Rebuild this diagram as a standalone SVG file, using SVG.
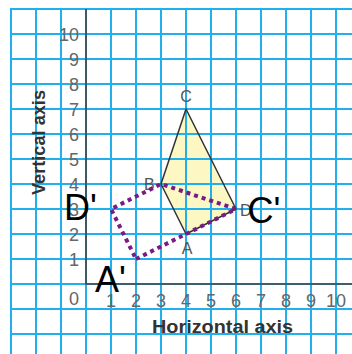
<svg xmlns="http://www.w3.org/2000/svg" width="352" height="354" viewBox="0 0 352 354">
<style>
.grid line{stroke:#22b0ec;stroke-width:2}
.axis{stroke:#444;stroke-width:1.6;fill:none}
.tick{font-family:"Liberation Sans",Arial,sans-serif;font-size:18px;fill:#666}
.ty{text-anchor:end}
.tx{text-anchor:middle}
.ttl{font-family:"Liberation Sans",Arial,sans-serif;font-weight:bold;fill:#333;font-size:18px}
.small{font-family:"Liberation Sans",Arial,sans-serif;font-size:16px;fill:#555}
.big{font-family:"Liberation Sans",Arial,sans-serif;font-size:36px;fill:#000}
</style>
<rect width="352" height="354" fill="#fff"/>
<g id="shape-fill"><polygon points="186,234 161,184 186,109 236,209" fill="#fdf7c4"/></g>
<g class="grid" id="grid">
<line x1="11" y1="9" x2="11" y2="354"/><line x1="36" y1="9" x2="36" y2="354"/><line x1="61" y1="9" x2="61" y2="354"/><line x1="86" y1="9" x2="86" y2="354"/><line x1="111" y1="9" x2="111" y2="354"/><line x1="136" y1="9" x2="136" y2="354"/><line x1="161" y1="9" x2="161" y2="354"/><line x1="186" y1="9" x2="186" y2="354"/><line x1="211" y1="9" x2="211" y2="354"/><line x1="236" y1="9" x2="236" y2="354"/><line x1="261" y1="9" x2="261" y2="354"/><line x1="286" y1="9" x2="286" y2="354"/><line x1="311" y1="9" x2="311" y2="354"/><line x1="336" y1="9" x2="336" y2="354"/>
<line x1="10" y1="9" x2="352" y2="9"/><line x1="10" y1="34" x2="352" y2="34"/><line x1="10" y1="59" x2="352" y2="59"/><line x1="10" y1="84" x2="352" y2="84"/><line x1="10" y1="109" x2="352" y2="109"/><line x1="10" y1="134" x2="352" y2="134"/><line x1="10" y1="159" x2="352" y2="159"/><line x1="10" y1="184" x2="352" y2="184"/><line x1="10" y1="209" x2="352" y2="209"/><line x1="10" y1="234" x2="352" y2="234"/><line x1="10" y1="259" x2="352" y2="259"/><line x1="10" y1="284" x2="352" y2="284"/><line x1="10" y1="309" x2="352" y2="309"/><line x1="10" y1="334" x2="352" y2="334"/>
</g>
<g id="axes"><polyline class="axis" points="86,9 86,284 352,284"/></g>
<g id="y-ticks" class="tick ty">
<text x="79" y="265.5">1</text><text x="79" y="240.5">2</text><text x="79" y="215.5">3</text><text x="79" y="190.5">4</text><text x="79" y="165.5">5</text><text x="79" y="140.5">6</text><text x="79" y="115.5">7</text><text x="79" y="90.5">8</text><text x="79" y="65.5">9</text><text x="79" y="40.5">10</text>
</g>
<g id="x-ticks" class="tick tx">
<text x="74" y="305">0</text><text x="111" y="307">1</text><text x="136" y="307">2</text><text x="161" y="307">3</text><text x="186" y="307">4</text><text x="211" y="307">5</text><text x="236" y="307">6</text><text x="261" y="307">7</text><text x="286" y="307">8</text><text x="311" y="307">9</text><text x="336" y="307">10</text>
</g>
<g id="axis-titles">
<text class="ttl" x="152" y="333" textLength="141" lengthAdjust="spacingAndGlyphs">Horizontal axis</text>
<text class="ttl" transform="translate(45,195) rotate(-90)" x="0" y="0" font-size="17" textLength="105" lengthAdjust="spacingAndGlyphs">Vertical axis</text>
</g>
<g id="shape-ABCD"><polygon points="186,234 161,184 186,109 236,209" fill="none" stroke="#333" stroke-width="1.5" stroke-linejoin="round"/></g>
<g id="labels-ABCD" class="small">
<text x="186" y="102" text-anchor="middle">C</text>
<text x="144" y="190">B</text>
<text x="187" y="254" text-anchor="middle">A</text>
<text x="240" y="215.5">D</text>
</g>
<g id="connectors"><polygon id="image-shape" points="136,259 236,209 161,184 111,209" fill="none" stroke="#7a1a84" stroke-width="4" stroke-dasharray="4 4"/></g>
<g id="labels-image" class="big">
<text x="64" y="220">D'</text>
<text x="95" y="292">A'</text>
<text x="247.5" y="223">C'</text>
</g>
</svg>
